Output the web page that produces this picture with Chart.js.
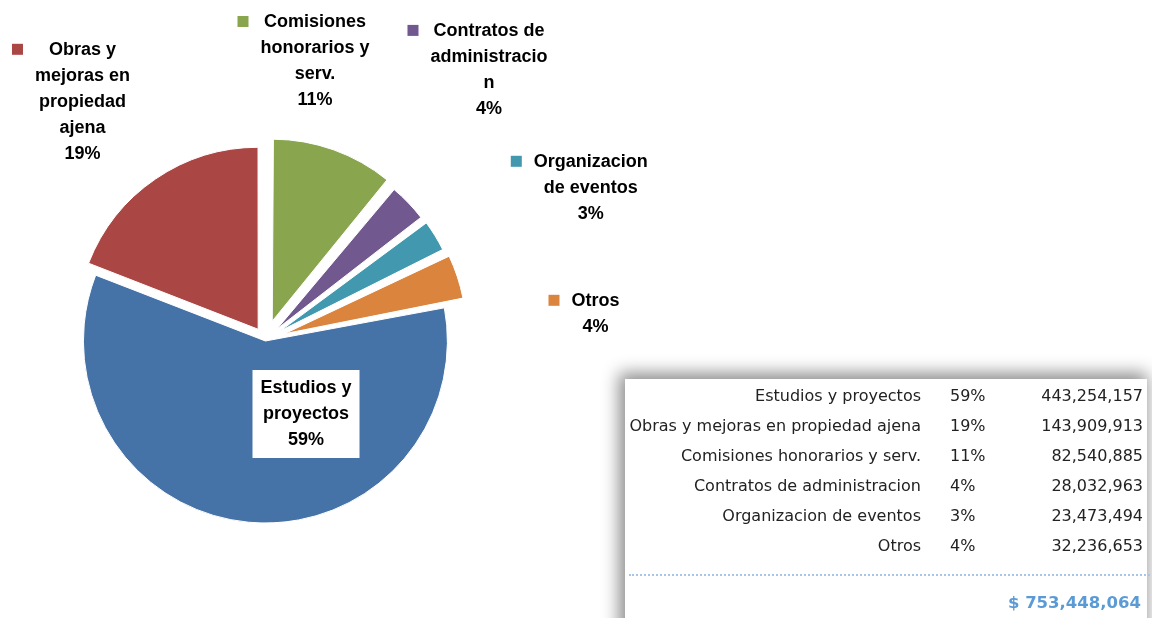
<!DOCTYPE html>
<html>
<head>
<meta charset="utf-8">
<script src="https://cdn.jsdelivr.net/npm/chart.js@4.4.1/dist/chart.umd.min.js"></script>
<style>
    html, body { margin: 0; padding: 0; background: #fff; }
    #wrap { position: relative; width: 1152px; height: 618px; overflow: hidden; }
    #pie { position: absolute; left: 0; top: 0; }
    .summary {
        position: absolute; left: 625px; top: 379px; width: 522px; height: 280px;
        background: #fff;
        box-shadow: -3px -3px 16px 3px rgba(0, 0, 0, 0.45);
        font-family: "DejaVu Sans", sans-serif; font-size: 16px; color: #222;
    }
    .summary .row { position: absolute; left: 0; width: 100%; height: 30px; line-height: 30px; }
    .summary .name { position: absolute; right: 226px; white-space: nowrap; }
    .summary .pct { position: absolute; left: 325px; }
    .summary .amt { position: absolute; right: 4px; }
    .summary .rule { position: absolute; left: 4px; right: -10px; top: 195px; border-top: 2px dotted #a9c6ea; }
    .summary .total { position: absolute; right: 6px; top: 214px; font-weight: bold; color: #5b9bd5; font-size: 16.5px; }
</style>
</head>
<body>
<div id="wrap">
    <canvas id="pie" width="1152" height="618"></canvas>
    <div class="summary" id="summary"></div>
</div>
<script>
// values as shown in the summary table
const categories = ["Estudios y proyectos", "Obras y mejoras en propiedad ajena", "Comisiones honorarios y serv.",
    "Contratos de administracion", "Organizacion de eventos", "Otros"];
const amounts = [443254157, 143909913, 82540885, 28032963, 23473494, 32236653];
const totalAmount = 753448064;
// how the pie labels wrap in the picture
const labelLines = [
    ["Estudios y", "proyectos"],
    ["Obras y", "mejoras en", "propiedad", "ajena"],
    ["Comisiones", "honorarios y", "serv."],
    ["Contratos de", "administracio", "n"],
    ["Organizacion", "de eventos"],
    ["Otros"]
];

const colors = ["#4572A7", "#AA4643", "#89A54E", "#71588F", "#4198AF", "#DB843D"];
// explosion of each slice (chart.js offset = 4x the shift in px)
const explode = [4, 52, 80, 64, 68, 80];
// label block centres relative to the pie centre
const labelAt = [[40.5, 74], [-183, -237.7], [49.5, -278.5], [223.5, -269.6], [325.3, -151.7], [330, -25.7]];

const sum = amounts.reduce((a, b) => a + b, 0);
const pct = amounts.map(v => Math.round(v / sum * 100) + "%");
const fmt = v => v.toLocaleString("en-US");
// first slice starts after the last four, so green sits at 12 o'clock
const startDeg = amounts.slice(2).reduce((a, b) => a + b, 0) / sum * 360;

const summary = document.getElementById("summary");
categories.forEach((c, i) => {
    const row = document.createElement("div");
    row.className = "row";
    row.style.top = (2 + i * 30) + "px";
    row.innerHTML = `<span class="name">${c}</span><span class="pct">${pct[i]}</span><span class="amt">${fmt(amounts[i])}</span>`;
    summary.appendChild(row);
});
summary.insertAdjacentHTML("beforeend",
    `<div class="rule"></div><div class="total">$ ${fmt(totalAmount)}</div>`);

// chart.js grows small/large exploded arcs a bit; keep every slice at the same radius
const evenRadius = {
    id: "evenRadius",
    afterUpdate(chart) {
        const meta = chart.getDatasetMeta(0);
        const r = meta.controller.outerRadius;
        meta.data.forEach(arc => {
            const shift = (arc.options.offset || 0) / 4;
            const fix = 1 - Math.sin(Math.min(Math.PI, arc.circumference));
            arc.outerRadius = r - shift * fix;
        });
    }
};

const sliceLabels = {
    id: "sliceLabels",
    afterDatasetsDraw(chart) {
        const ctx = chart.ctx;
        const arc = chart.getDatasetMeta(0).data[0];
        const lh = 26;
        ctx.save();
        ctx.font = "bold 18px 'Liberation Sans', sans-serif";
        ctx.textAlign = "center";
        ctx.textBaseline = "middle";
        labelLines.forEach((ln, i) => {
            const lines = ln.concat(pct[i]);
            const bx = arc.x + labelAt[i][0];
            const by = arc.y + labelAt[i][1];
            const top = by - (lines.length - 1) * lh / 2;
            const w = Math.max(...lines.map(t => ctx.measureText(t).width));
            if (i === 0) {
                ctx.fillStyle = "#fff";
                ctx.fillRect(bx - w / 2 - 8, top - 18, w + 16, (lines.length - 1) * lh + 36);
            } else {
                ctx.fillStyle = colors[i];
                ctx.fillRect(bx - w / 2 - 23, top - 6.5, 11, 11);
            }
            ctx.fillStyle = "#000";
            lines.forEach((t, k) => ctx.fillText(t, bx, top + k * lh));
        });
        ctx.restore();
    }
};

new Chart(document.getElementById("pie"), {
    type: "pie",
    data: {
        labels: categories,
        datasets: [{
            data: amounts,
            backgroundColor: colors,
            borderColor: "#fff",
            borderWidth: 1,
            offset: explode,
            radius: 182
        }]
    },
    options: {
        responsive: false,
        devicePixelRatio: 1,
        animation: false,
        events: [],
        rotation: startDeg,
        layout: { padding: { left: 65.5, right: 686.5, top: 140, bottom: 78 } },
        plugins: { legend: { display: false }, tooltip: { enabled: false } }
    },
    plugins: [evenRadius, sliceLabels]
});
</script>
</body>
</html>
